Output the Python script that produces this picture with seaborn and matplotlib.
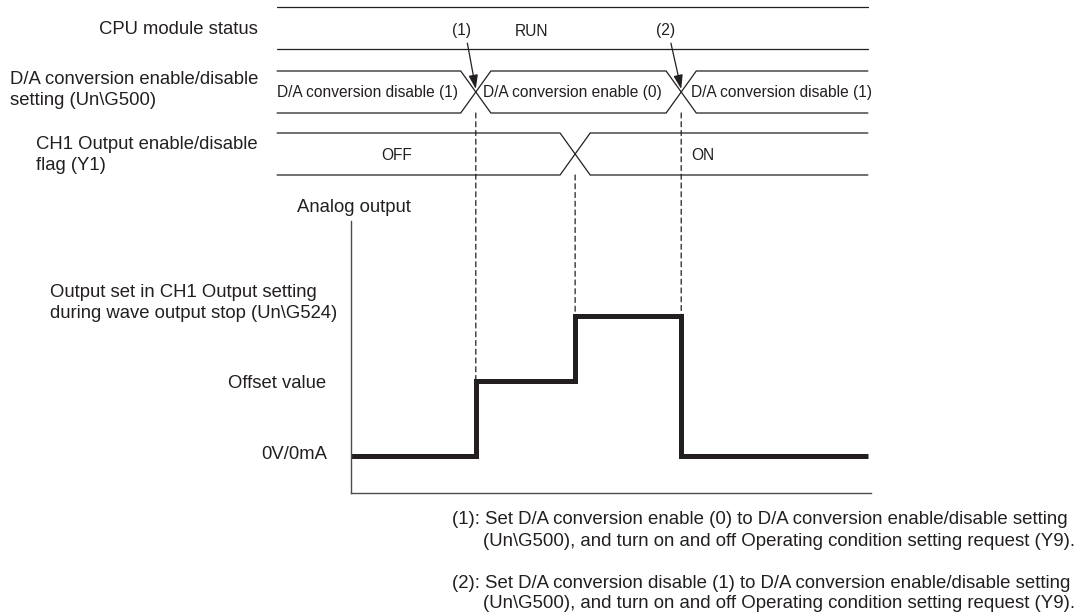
import matplotlib

matplotlib.use("Agg")
import matplotlib.pyplot as plt
import seaborn as sns
from matplotlib.patches import ConnectionPatch

# --- data (time in units of the analog output axis, which runs 0..10) ---
row_start = -1.42
row_end = 9.94
t_enable = 2.40    # (1) D/A conversion enable
t_flag_on = 4.31   # CH1 Output enable/disable flag turns ON
t_disable = 6.35   # (2) D/A conversion disable

signal_names = [
    "CPU module status",
    "D/A conversion enable/disable\nsetting (Un\\G500)",
    "CH1 Output enable/disable\nflag (Y1)",
]
cpu_switch_times = []
cpu_states = ["RUN"]
da_switch_times = [t_enable, t_disable]
da_states = ["D/A conversion disable (1)", "D/A conversion enable (0)", "D/A conversion disable (1)"]
flag_switch_times = [t_flag_on]
flag_states = ["OFF", "ON"]
markers = ["(1)", "(2)"]

output_times = [0.0, t_enable, t_flag_on, t_disable, row_end]
output_levels = [1.0, 3.0, 4.75, 1.0, 1.0]
level_values = [1.0, 3.0, 4.75]
level_labels = [
    "0V/0mA",
    "Offset value",
    "Output set in CH1 Output setting\nduring wave output stop (Un\\G524)",
]
notes = [
    "(1): Set D/A conversion enable (0) to D/A conversion enable/disable setting",
    "(Un\\G500), and turn on and off Operating condition setting request (Y9).",
    "(2): Set D/A conversion disable (1) to D/A conversion enable/disable setting",
    "(Un\\G500), and turn on and off Operating condition setting request (Y9).",
]

# --- layout (pixels of the 1080x614 canvas) ---
W, H = 1080, 614
OUT_LEFT, OUT_RIGHT, OUT_TOP, OUT_BOTTOM = 351, 871, 221, 493
T_MAX, Y_MAX = 10.0, 7.3
ROWS = [(7, 49), (71, 113), (133, 175)]
HALF = 0.29
INK = "#231f20"
AXIS = "#4d4d4d"
LABEL_SIZE = 13.35
STATE_SIZE = 11.2

sns.set_theme(style="white")
plt.rcParams["font.family"] = ["Liberation Sans", "DejaVu Sans"]
plt.rcParams["text.color"] = INK

fig = plt.figure(figsize=(W / 100, H / 100), dpi=100)

# overlay in (time, pixel-row) coordinates, aligned with the output axis
px_per_t = (OUT_RIGHT - OUT_LEFT) / T_MAX
ov = fig.add_axes([0, 0, 1, 1])
ov.set_xlim(-OUT_LEFT / px_per_t, (W - OUT_LEFT) / px_per_t)
ov.set_ylim(H, 0)
ov.axis("off")

ax = fig.add_axes([
    OUT_LEFT / W,
    (H - OUT_BOTTOM) / H,
    (OUT_RIGHT - OUT_LEFT) / W,
    (OUT_BOTTOM - OUT_TOP) / H,
])
ax.patch.set_alpha(0)


def draw_bus(top, bottom, switch_times):
    for first, second in ((top, bottom), (bottom, top)):
        xs, ys = [row_start], [first]
        cur, other = first, second
        for t in switch_times:
            xs += [t - HALF, t + HALF]
            ys += [cur, other]
            cur, other = other, cur
        xs.append(row_end)
        ys.append(cur)
        ov.plot(xs, ys, color=INK, lw=0.9, solid_joinstyle="miter")


for (top, bottom), switches in zip(ROWS, [cpu_switch_times, da_switch_times, flag_switch_times]):
    draw_bus(top, bottom, switches)

# signal names on the left
fig.text(258 / W, 1 - 30 / H, signal_names[0], ha="right", va="center", fontsize=LABEL_SIZE)
fig.text(258 / W, 1 - 90 / H, signal_names[1], ha="right", va="center",
         multialignment="left", fontsize=LABEL_SIZE, linespacing=1.3)
fig.text(258 / W, 1 - 155 / H, signal_names[2], ha="right", va="center",
         multialignment="left", fontsize=LABEL_SIZE, linespacing=1.3)

# state texts inside the rows
ov.text(3.48, 31, cpu_states[0], ha="center", va="center", fontsize=STATE_SIZE)
for x, s in zip([0.31, 4.25, 8.28], da_states):
    ov.text(x, 93, s, ha="center", va="center", fontsize=STATE_SIZE)
for x, s in zip([0.88, 6.77], flag_states):
    ov.text(x, 155, s, ha="center", va="center", fontsize=STATE_SIZE)

# (1) / (2) arrows pointing at the D/A transitions
for label, t, lx in zip(markers, da_switch_times, [2.13, 6.04]):
    ov.annotate(
        label, xy=(t, 89), xytext=(lx, 31), ha="center", va="center", fontsize=STATE_SIZE,
        arrowprops=dict(arrowstyle="-|>,head_length=0.75,head_width=0.25", color=INK,
                        lw=0.9, shrinkA=1, shrinkB=0, relpos=(0.75, 0)),
    )

# analog output waveform
sns.lineplot(x=output_times, y=output_levels, ax=ax, color=INK, lw=3.6,
             drawstyle="steps-post", sort=False, errorbar=None,
             solid_joinstyle="miter", solid_capstyle="butt")
ax.set_xlim(0, T_MAX)
ax.set_ylim(0, Y_MAX)
ax.set_xticks([])
ax.set_yticks([])
ax.set_xlabel("")
ax.set_ylabel("")
for side in ("top", "right"):
    ax.spines[side].set_visible(False)
for side in ("left", "bottom"):
    ax.spines[side].set_color(AXIS)
    ax.spines[side].set_linewidth(1.0)

ax.text(0.006, 1.02, "Analog output", transform=ax.transAxes, ha="center", va="bottom",
        fontsize=LABEL_SIZE)

offsets = [(-24, 1), (-25, -2), (-14, 13)]
for lv, lab, (dx, dy) in zip(level_values, level_labels, offsets):
    ax.annotate(lab, xy=(0, lv), xycoords=("axes fraction", "data"),
                xytext=(dx, dy), textcoords="offset pixels",
                ha="right", va="center", multialignment="left",
                fontsize=LABEL_SIZE, linespacing=1.3)

# dashed guides from the timing rows down to the waveform
row_bottoms = [ROWS[1][1], ROWS[2][1], ROWS[1][1]]
for i, rb in zip(range(1, 4), row_bottoms):
    t = output_times[i]
    lv = max(output_levels[i - 1], output_levels[i])
    con = ConnectionPatch(xyA=(t, rb), coordsA=ov.transData, xyB=(t, lv),
                          coordsB=ax.transData, color=INK, lw=0.9,
                          linestyle=(0, (4, 3)))
    con.set_zorder(0.5)
    fig.add_artist(con)

# footnotes
note_y = [520, 541, 583, 603]
note_x = [452, 483, 452, 483]
for x, y, s in zip(note_x, note_y, notes):
    fig.text(x / W, 1 - y / H, s, ha="left", va="center", fontsize=13.4)

fig.savefig("out.png", dpi=100)
